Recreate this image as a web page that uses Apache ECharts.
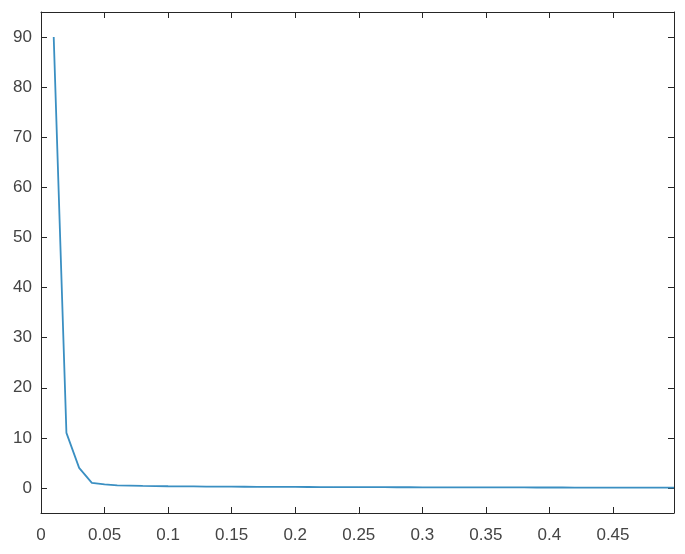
<!DOCTYPE html>
<html>
<head>
<meta charset="utf-8">
<script src="https://cdn.jsdelivr.net/npm/echarts@6/dist/echarts.min.js"></script>
<style>
  html, body { margin: 0; padding: 0; background: #fff; }
  #main { width: 685px; height: 554px; }
</style>
</head>
<body>
<div id="main"></div>
<script>
// x samples and the curve
var xValues = [0.01, 0.02, 0.03, 0.04, 0.05, 0.06, 0.07, 0.08, 0.09, 0.10,
               0.11, 0.12, 0.13, 0.14, 0.15, 0.16, 0.17, 0.18, 0.19, 0.20,
               0.21, 0.22, 0.23, 0.24, 0.25, 0.26, 0.27, 0.28, 0.29, 0.30,
               0.31, 0.32, 0.33, 0.34, 0.35, 0.36, 0.37, 0.38, 0.39, 0.40,
               0.41, 0.42, 0.43, 0.44, 0.45, 0.46, 0.47, 0.48, 0.49, 0.498];
var yValues = [90, 11, 4.0, 1.0, 0.7, 0.5, 0.45, 0.4, 0.37, 0.34,
               0.32, 0.3, 0.28, 0.26, 0.25, 0.24, 0.23, 0.22, 0.21, 0.2,
               0.19, 0.18, 0.17, 0.17, 0.16, 0.15, 0.15, 0.14, 0.14, 0.13,
               0.13, 0.12, 0.12, 0.11, 0.11, 0.1, 0.1, 0.1, 0.09, 0.09,
               0.09, 0.08, 0.08, 0.08, 0.07, 0.07, 0.07, 0.06, 0.06, 0.06];
var xTicks = [0, 0.05, 0.1, 0.15, 0.2, 0.25, 0.3, 0.35, 0.4, 0.45];
var yTicks = [0, 10, 20, 30, 40, 50, 60, 70, 80, 90];

var axisColor = '#262626';
var font = 'Liberation Sans, Arial, sans-serif';

var points = xValues.map(function(x, i){ return [x, yValues[i]]; });

function makeAxis(pos, min, max, ticks, labels){
	return {
		type: 'value', position: pos, min: min, max: max,
		axisLine: { show: true, onZero: false, lineStyle: { color: axisColor, width: 1 } },
		axisTick: { show: true, inside: true, length: 6, customValues: ticks,
			lineStyle: { color: axisColor } },
		axisLabel: labels ? {
			show: true, customValues: ticks, color: '#444', fontSize: 17,
			fontFamily: font, margin: labels
		} : { show: false },
		splitLine: { show: false }
	};
}

var chart = echarts.init(document.getElementById('main'));

chart.setOption({
	animation: false,
	backgroundColor: '#fff',
	grid: { left: 41, right: 11, top: 12, bottom: 41, containLabel: false },
	xAxis: [
		makeAxis('bottom', 0, 0.498, xTicks, 14),
		makeAxis('top', 0, 0.498, xTicks, 0)
	],
	yAxis: [
		makeAxis('left', -5, 95, yTicks, 9),
		makeAxis('right', -5, 95, yTicks, 0)
	],
	series: [
		{
			type: 'line',
			data: points,
			showSymbol: false,
			symbol: 'none',
			lineStyle: { color: '#3a8fc2', width: 1.8 },
			z: 3
		}
	]
});
</script>
</body>
</html>
